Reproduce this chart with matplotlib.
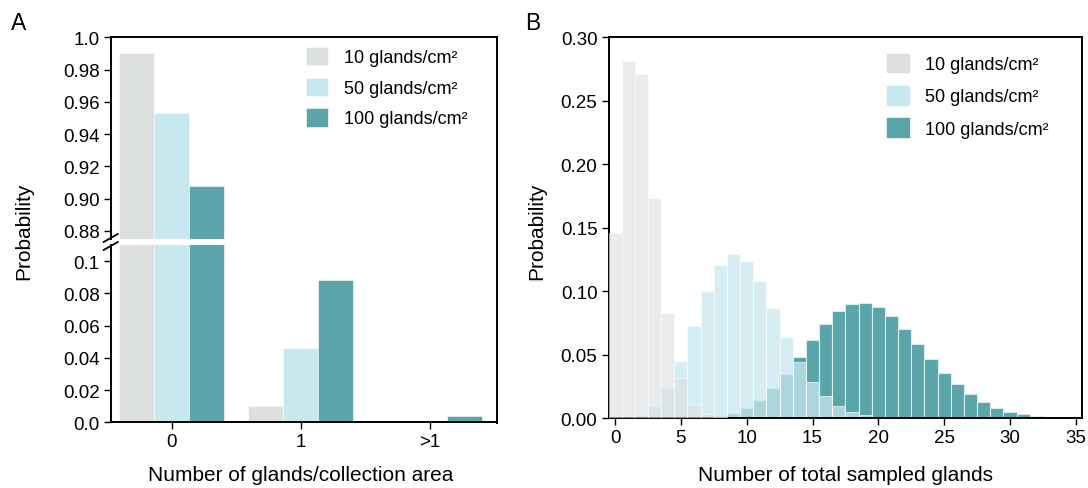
"""Probability of sampled glands: bar chart with broken axis (A) and overlaid histograms (B)."""

import matplotlib.pyplot as plt
import numpy as np
from matplotlib.lines import Line2D

plt.rcParams['font.family'] = ['Liberation Sans', 'DejaVu Sans']

# ---- data ----
densities = ['10 glands/cm²', '50 glands/cm²', '100 glands/cm²']
colors = ['#dcdfe0', '#c8e8ef', '#5aa4aa']

# panel A: number of glands per collection area
a_categories = ['0', '1', '>1']
a_10 = [0.990, 0.0099, 0.00005]
a_50 = [0.953, 0.046, 0.0011]
a_100 = [0.908, 0.088, 0.0037]

# panel B: number of total sampled glands
b_10_x = [0, 1, 2, 3, 4, 5, 6, 7, 8]
b_10_p = [0.146, 0.2816, 0.2709, 0.1735, 0.0832, 0.0318, 0.0105, 0.003, 0.001]

b_50_x = [2, 3, 4, 5, 6, 7, 8, 9, 10, 11, 12, 13, 14, 15, 16, 17, 18, 19, 20]
b_50_p = [0.0026, 0.0094, 0.0236, 0.0454, 0.073, 0.1003, 0.1207, 0.129, 0.124,
          0.1084, 0.0869, 0.0643, 0.044, 0.0283, 0.0173, 0.0099, 0.0047, 0.0026, 0.001]

b_100_x = [7, 8, 9, 10, 11, 12, 13, 14, 15, 16, 17, 18, 19, 20, 21, 22, 23, 24,
           25, 26, 27, 28, 29, 30, 31, 32, 33, 34]
b_100_p = [0.0005, 0.0016, 0.0042, 0.0084, 0.0147, 0.0236, 0.0349, 0.048, 0.0619,
           0.0743, 0.0842, 0.0898, 0.091, 0.0876, 0.0803, 0.0703, 0.0585, 0.0467,
           0.0359, 0.0268, 0.0189, 0.0126, 0.0084, 0.0052, 0.0031, 0.0018, 0.001, 0.0003]

W, H = 1088, 489
fig = plt.figure(figsize=(W / 100, H / 100), dpi=100)

spine_w = 1.4
tick_fs = 13.5
label_fs = 15
legend_kw = dict(loc='upper left', frameon=False, fontsize=13, handlelength=1.22,
                 handleheight=1.2, labelspacing=0.62, handletextpad=0.9,
                 borderpad=0, borderaxespad=0)


def style(ax):
    for s in ax.spines.values():
        s.set_linewidth(spine_w)
    ax.tick_params(direction='out', length=5, width=1.0, labelsize=tick_fs, pad=3)


# ---- panel A ----
left_a, width_a = 110.7 / W, 386.6 / W
ax_top = fig.add_axes([left_a, 1 - 240 / H, width_a, 201.7 / H])
ax_bot = fig.add_axes([left_a, 1 - 423.3 / H, width_a, 177.3 / H])

xa = np.arange(len(a_categories))
bw = 0.27
for ax in (ax_top, ax_bot):
    for off, vals, c, lab in zip([-bw, 0, bw], [a_10, a_50, a_100], colors, densities):
        ax.bar(xa + off, vals, width=bw, color=c, edgecolor='white', linewidth=0.4, label=lab)
    ax.set_xlim(-0.473, 2.524)
    style(ax)

ax_top.set_ylim(0.875, 1.0)
ax_top.set_yticks([0.88, 0.90, 0.92, 0.94, 0.96, 0.98, 1.0])
ax_top.set_yticklabels(['0.88', '0.90', '0.92', '0.94', '0.96', '0.98', '1.0'])
ax_top.spines['bottom'].set_visible(False)
ax_top.tick_params(axis='x', bottom=False, labelbottom=False)

ax_bot.set_ylim(0, 0.11)
ax_bot.set_yticks([0, 0.02, 0.04, 0.06, 0.08, 0.1])
ax_bot.set_yticklabels(['0.0', '0.02', '0.04', '0.06', '0.08', '0.1'])
ax_bot.spines['top'].set_visible(False)
ax_bot.spines['right'].set_visible(False)
ax_top.spines['right'].set_visible(False)
ax_bot.set_xticks(xa)
ax_bot.set_xticklabels(a_categories)

# continuous right spine across the break
x_r = left_a + width_a
fig.add_artist(Line2D([x_r, x_r], [1 - 423.3 / H - 0.001, 1 - 38.3 / H + 0.001],
                      color='black', linewidth=spine_w))

# break marks on the left spine
for yc in (1 - 239 / H, 1 - 247 / H):
    fig.add_artist(Line2D([left_a - 7 / W, left_a + 7 / W], [yc - 4 / H, yc + 4 / H],
                          color='black', linewidth=1.3))

ax_top.legend(bbox_to_anchor=(0.505, 0.952), **legend_kw)

# ---- panel B ----
ax_b = fig.add_axes([608.5 / W, 1 - 419.3 / H, 473.2 / W, 381 / H])
ax_b.bar(b_100_x, b_100_p, width=1.0, color=colors[2], edgecolor='#d8eeee', linewidth=0.8,
         zorder=1)
ax_b.bar(b_50_x, b_50_p, width=1.0, color=colors[1], alpha=0.75, edgecolor='white',
         linewidth=0.6, zorder=2)
ax_b.bar(b_10_x, b_10_p, width=1.0, color=colors[0], alpha=0.6, edgecolor='white',
         linewidth=0.6, zorder=3)
ax_b.set_xlim(-0.5, 35.45)
ax_b.set_ylim(0, 0.30)
ax_b.set_xticks(np.arange(0, 36, 5))
ax_b.set_yticks(np.arange(0, 0.31, 0.05))
ax_b.set_yticklabels(['%.2f' % v for v in np.arange(0, 0.31, 0.05)])
style(ax_b)
leg_handles = [plt.Rectangle((0, 0), 1, 1, color=c) for c in colors]
ax_b.legend(leg_handles, densities, bbox_to_anchor=(0.589, 0.957),
            **{**legend_kw, 'labelspacing': 0.72})

# ---- labels ----
fig.text(19 / W, 1 - 23 / H, 'A', fontsize=16.5, ha='center', va='center')
fig.text(533 / W, 1 - 23 / H, 'B', fontsize=16.5, ha='center', va='center')
fig.text(24 / W, 1 - 231 / H, 'Probability', fontsize=label_fs, rotation=90,
         ha='center', va='center')
fig.text(537 / W, 1 - 231 / H, 'Probability', fontsize=label_fs, rotation=90,
         ha='center', va='center')
fig.text(301 / W, 1 - 476 / H, 'Number of glands/collection area', fontsize=label_fs,
         ha='center', va='center')
fig.text(845 / W, 1 - 476 / H, 'Number of total sampled glands', fontsize=label_fs,
         ha='center', va='center')

fig.savefig('out.png', dpi=100)
